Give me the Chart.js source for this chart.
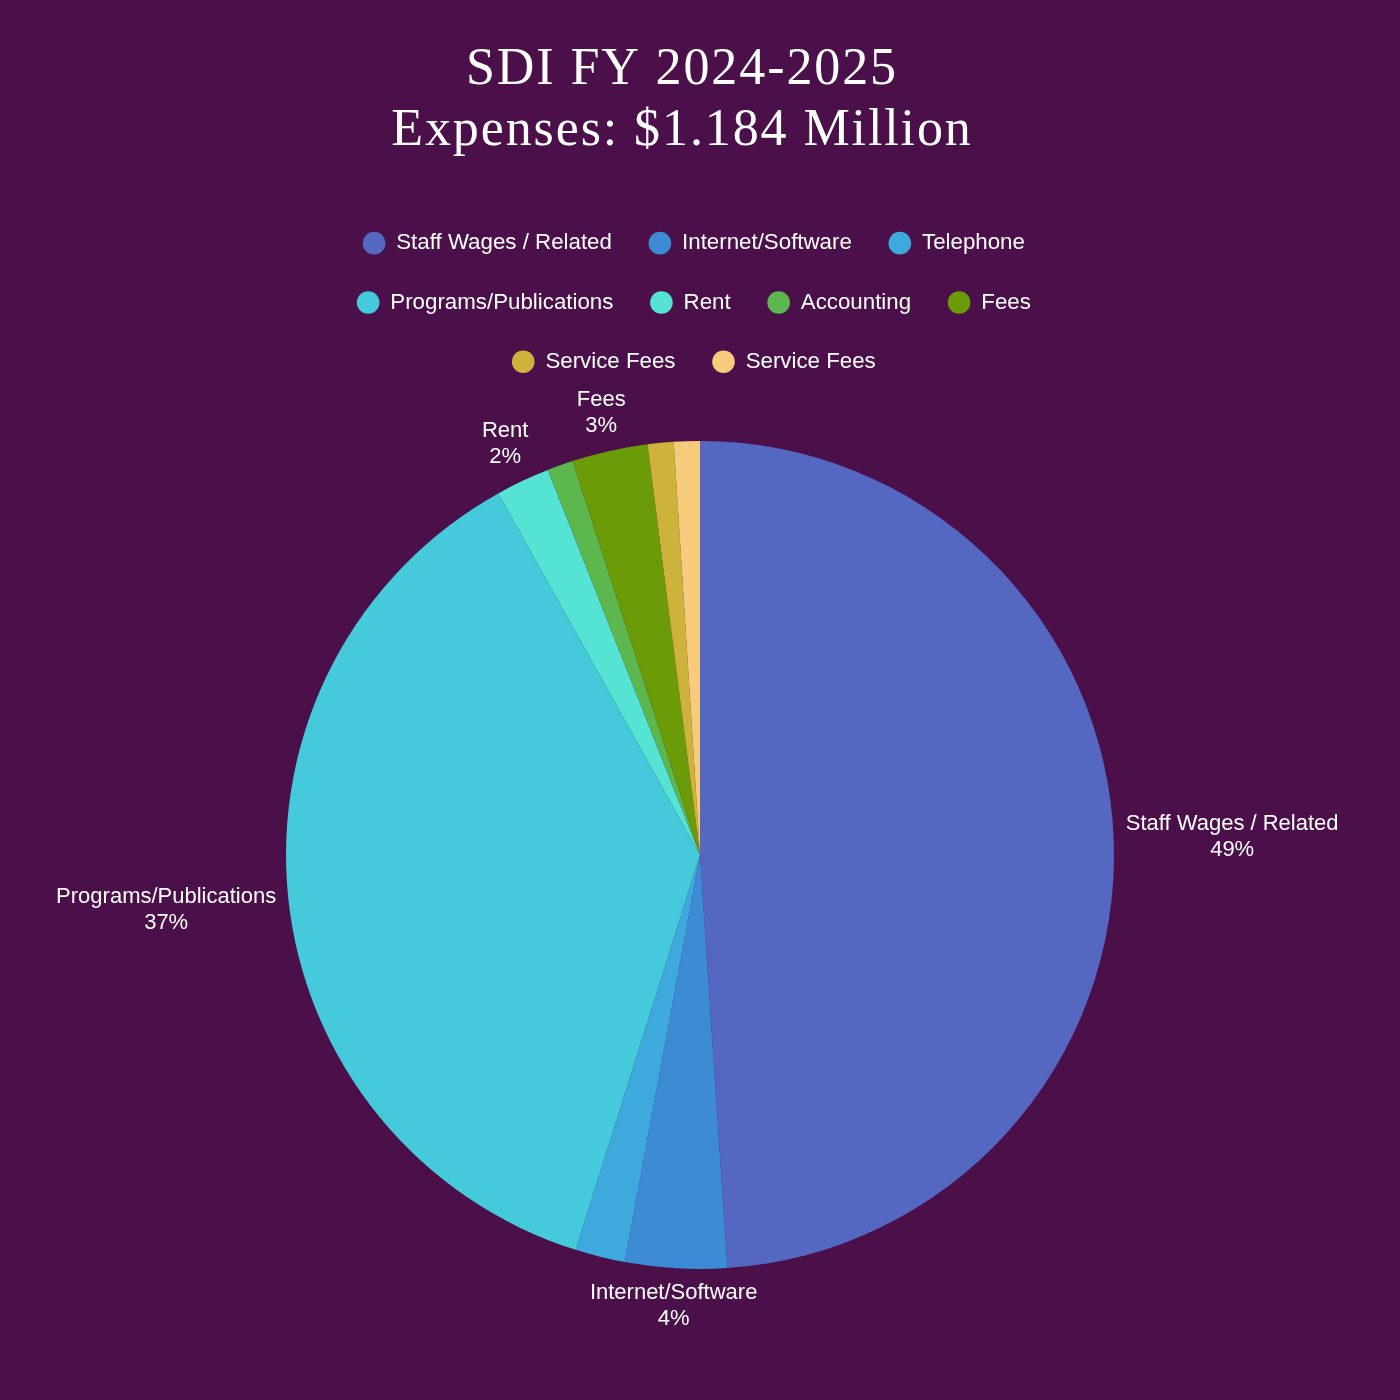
<!doctype html>
<html>

<head>
  <title>SDI FY 2024-2025 Expenses</title>
</head>
<style>
  body {
    margin: 0;
    background: #4b1049;
    font-family: "Liberation Sans", sans-serif;
  }

  .chartContainer {
    width: 1400px;
    height: 1400px;
  }
</style>

<body>
  <div class="chartContainer">
    <canvas id="pieId"></canvas>
  </div>
  <script src="https://cdn.jsdelivr.net/npm/chart.js@4/dist/chart.umd.min.js"></script>
  <script>
    // expense categories, thousands of dollars
    var categories = ["Staff Wages / Related", "Internet/Software", "Telephone", "Programs/Publications",
      "Rent", "Accounting", "Fees", "Service Fees", "Service Fees"];
    var expenses = [580, 47, 23, 439, 25, 12, 35, 12, 12];
    var colors = ["#5468c1", "#3d8ad5", "#3ea9dd", "#44cada", "#55e3d3", "#5cb84e", "#6b9b07", "#cdb23c", "#f6cb7c"];
    var titleLines = ["SDI FY 2024-2025", "Expenses: $1.184 Million"];

    var bgColor = "#4b1049";
    // title and legend sit a little left of the pie centre in the original
    var titleShift = -18, legendShift = -6;
    var titleSpacing = '1.9px';

    var background = {
      id: 'background',
      beforeDraw: function (chart) {
        var ctx = chart.ctx;
        ctx.save();
        ctx.fillStyle = bgColor;
        ctx.fillRect(0, 0, chart.width, chart.height);
        ctx.restore();
      }
    };

    var nudgeHeader = {
      id: 'nudgeHeader',
      afterLayout: function (chart) {
        var tb = chart.titleBlock;
        if (tb) {
          tb.left += titleShift;
          tb.right += titleShift;
          // slightly spaced serif title
          if (!tb._spaced) {
            var origDraw = tb.draw;
            tb.draw = function () {
              var c = this.ctx;
              var prev = c.letterSpacing;
              c.letterSpacing = titleSpacing;
              origDraw.apply(this, arguments);
              c.letterSpacing = prev || '0px';
            };
            tb._spaced = true;
          }
        }
        if (chart.legend) {
          chart.legend.left += legendShift;
          chart.legend.right += legendShift;
        }
      }
    };

    // labels outside the pie, only for slices of 2% and more
    var outerLabels = {
      id: 'outerLabels',
      afterDatasetsDraw: function (chart) {
        var ctx = chart.ctx;
        var meta = chart.getDatasetMeta(0);
        var data = chart.data.datasets[0].data;
        var total = data.reduce(function (a, b) { return a + b; }, 0);
        var size = 22, lineH = 26, offset = 12;
        ctx.save();
        ctx.font = size + 'px "Liberation Sans", Arial, sans-serif';
        ctx.fillStyle = '#ffffff';
        ctx.textAlign = 'center';
        ctx.textBaseline = 'middle';
        meta.data.forEach(function (arc, i) {
          var pct = data[i] / total;
          if (pct < 0.02) return;
          var lines = [chart.data.labels[i], Math.round(pct * 100) + '%'];
          var w = Math.max(ctx.measureText(lines[0]).width, ctx.measureText(lines[1]).width);
          var h = lines.length * lineH;
          var mid = (arc.startAngle + arc.endAngle) / 2;
          var ux = Math.cos(mid), uy = Math.sin(mid);
          var px = arc.x + (arc.outerRadius + offset) * ux;
          var py = arc.y + (arc.outerRadius + offset) * uy;
          var t = Math.min(Math.abs(ux) > 1e-6 ? (w / 2) / Math.abs(ux) : Infinity,
            Math.abs(uy) > 1e-6 ? (h / 2) / Math.abs(uy) : Infinity);
          var cx = px + ux * t, cy = py + uy * t;
          lines.forEach(function (txt, k) {
            ctx.fillText(txt, cx, cy - h / 2 + lineH * (k + 0.5));
          });
        });
        ctx.restore();
      }
    };

    var ctx = document.getElementById("pieId").getContext('2d');
    var myChart = new Chart(ctx, {
      type: 'pie',
      data: {
        labels: categories,
        datasets: [{
          data: expenses,
          backgroundColor: colors,
          borderWidth: 0
        }]
      },
      options: {
        responsive: true,
        maintainAspectRatio: false,
        animation: false,
        layout: {
          padding: { top: 0, left: 286, right: 286, bottom: 73 }
        },
        plugins: {
          title: {
            display: true,
            text: titleLines,
            color: '#ffffff',
            font: { family: '"Liberation Serif", "DejaVu Serif", serif', size: 52, weight: 'normal', lineHeight: 1.173 },
            padding: { top: 40, bottom: 33 }
          },
          legend: {
            position: 'top',
            labels: {
              color: '#ffffff',
              usePointStyle: true,
              pointStyle: 'circle',
              boxWidth: 22,
              boxHeight: 16,
              padding: 37,
              font: { family: '"Liberation Sans", Arial, sans-serif', size: 22.3 }
            }
          },
          tooltip: { enabled: false }
        }
      },
      plugins: [background, nudgeHeader, outerLabels]
    });
  </script>
</body>

</html>
